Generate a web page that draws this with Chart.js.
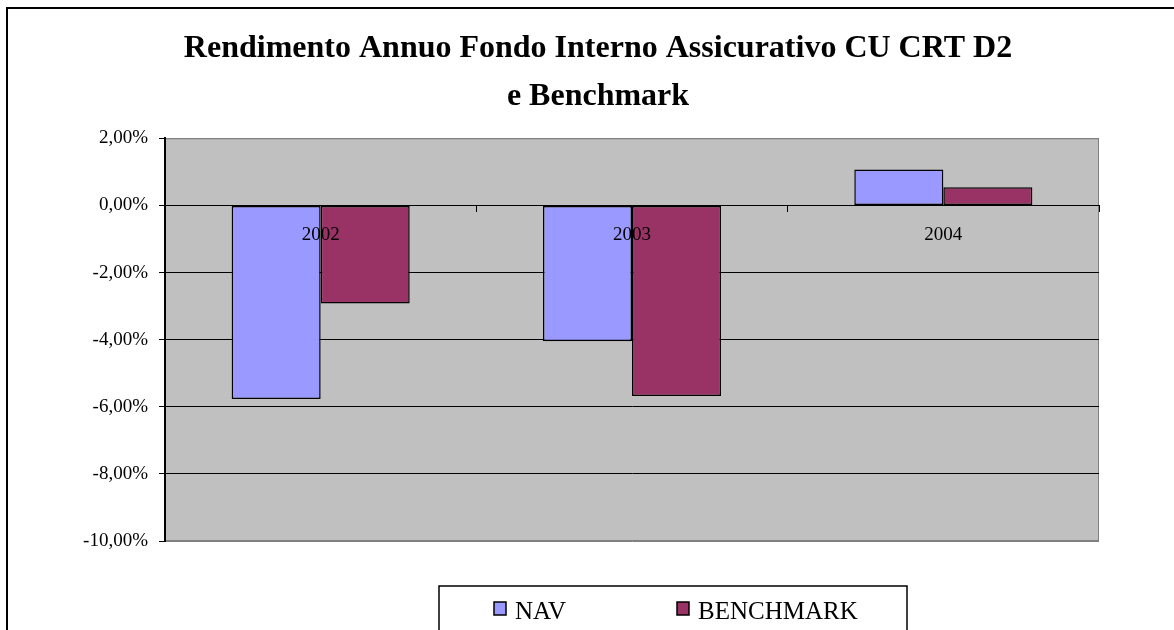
<!DOCTYPE html>
<html>
<head>
<meta charset="utf-8">
<script src="https://cdn.jsdelivr.net/npm/chart.js@4.4.0/dist/chart.umd.min.js"></script>
<style>
  html, body { margin: 0; padding: 0; background: #fff; }
  #wrap { width: 1174px; height: 630px; }
</style>
</head>
<body>
<div id="wrap"><canvas id="myChart" width="1174" height="630"></canvas></div>
<script>
var anni = ["2002", "2003", "2004"];
var nav = [-5.77, -4.05, 1.07];
var benchmark = [-2.92, -5.68, 0.54];
var titolo = ["Rendimento Annuo Fondo Interno Assicurativo CU CRT D2", "e Benchmark"];

function fmtPerc(v) {
  return v.toFixed(2).replace(".", ",") + "%";
}

// sfondo grigio dell'area del grafico + cornice esterna
var sfondoPlugin = {
  id: "sfondo",
  beforeDraw: function (chart) {
    var ctx = chart.ctx;
    var a = chart.chartArea;
    ctx.save();
    ctx.fillStyle = "#fff";
    ctx.fillRect(0, 0, chart.width, chart.height);
    ctx.fillStyle = "#C0C0C0";
    ctx.fillRect(a.left, a.top, a.right - a.left, a.bottom - a.top);
    ctx.strokeStyle = "#808080";
    ctx.lineWidth = 1;
    ctx.strokeRect(a.left + 0.5, a.top + 0.5, a.right - a.left - 1, a.bottom - a.top - 1);
    ctx.strokeStyle = "#000";
    ctx.lineWidth = 2;
    ctx.strokeRect(7, 8, 1400, 900);
    ctx.restore();
  },
};

// legenda con riquadro, come in Excel
var legendaPlugin = {
  id: "legendaBox",
  afterDraw: function (chart) {
    var ctx = chart.ctx;
    ctx.save();
    ctx.strokeStyle = "#000";
    ctx.lineWidth = 1.5;
    ctx.strokeRect(439, 586, 468, 100);
    var posX = [494, 677];
    ctx.font = "25px 'Liberation Serif'";
    ctx.textBaseline = "alphabetic";
    chart.data.datasets.forEach(function (ds, i) {
      var x = posX[i];
      ctx.fillStyle = ds.backgroundColor;
      ctx.fillRect(x, 602, 12, 13);
      ctx.lineWidth = 1.5;
      ctx.strokeRect(x, 602, 12, 13);
      ctx.fillStyle = "#000";
      ctx.fillText(ds.label, x + 21, 619);
    });
    ctx.restore();
  },
};

const ctx = document.getElementById("myChart").getContext("2d");
new Chart(ctx, {
  type: "bar",
  data: {
    labels: anni,
    datasets: [
      {
        label: "NAV",
        data: nav,
        backgroundColor: "#9999FF",
        borderColor: "#000",
        borderWidth: 1.5,
        borderSkipped: false,
      },
      {
        label: "BENCHMARK",
        data: benchmark,
        backgroundColor: "#993366",
        borderColor: "#000",
        borderWidth: 1.5,
        borderSkipped: false,
      },
    ],
  },
  options: {
    responsive: false,
    animation: false,
    events: [],
    datasets: {
      bar: { barPercentage: 1, categoryPercentage: 0.572 },
    },
    layout: {
      padding: { left: 22, right: 0, top: 0, bottom: 89 },
    },
    plugins: {
      legend: { display: false },
      tooltip: { enabled: false },
      title: {
        display: true,
        text: titolo,
        color: "#000",
        font: { family: "'Liberation Serif'", size: 32, weight: "bold", lineHeight: 1.52 },
        padding: { top: 24, bottom: 17 },
      },
    },
    scales: {
      x: {
        position: { y: 0 },
        offset: true,
        grid: {
          drawOnChartArea: false,
          drawTicks: true,
          tickLength: 6,
          offset: true,
          color: "#000",
        },
        border: { color: "#000", width: 1 },
        ticks: {
          z: 1,
          color: "#000",
          padding: 12,
          font: { family: "'Liberation Serif'", size: 19 },
        },
      },
      y: {
        min: -10,
        max: 2,
        afterFit: function (scale) {
          scale.width = 143;
        },
        ticks: {
          stepSize: 2,
          color: "#000",
          padding: 11,
          font: { family: "'Liberation Serif'", size: 19 },
          callback: function (v) {
            return fmtPerc(v);
          },
        },
        grid: {
          color: function (c) {
            if (c.tick && (c.tick.value === 2 || c.tick.value === -10)) return "#808080";
            return "#000";
          },
          tickColor: "#000",
          tickLength: 6,
        },
        border: { color: "#000", width: 2 },
      },
      // asse vuoto a destra, solo per lasciare il margine bianco
      margine: {
        position: "right",
        afterFit: function (scale) {
          scale.width = 75;
        },
        grid: { display: false },
        border: { display: false },
        ticks: { display: false },
      },
    },
  },
  plugins: [sfondoPlugin, legendaPlugin],
});
</script>
</body>
</html>
